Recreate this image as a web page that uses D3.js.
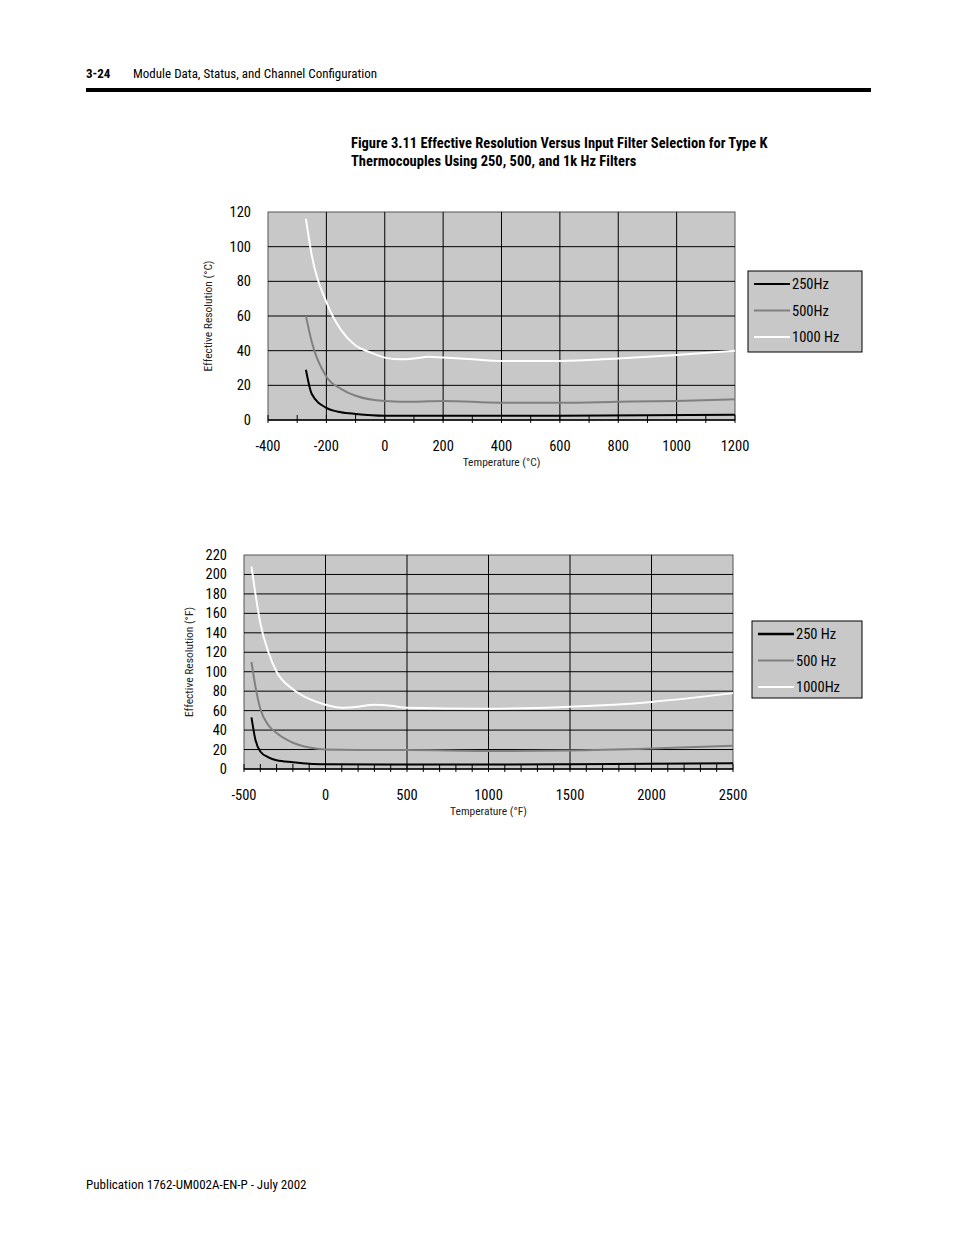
<!DOCTYPE html>
<html><head><meta charset="utf-8">
<script src="https://cdn.jsdelivr.net/npm/d3@7"></script>
<style>body{margin:0;background:#fff}svg{font-family:"Liberation Sans Narrow","Roboto Condensed","Liberation Sans",sans-serif}</style>
</head><body><svg id="s" width="954" height="1235"></svg>
<script>
// Chart 1 (°C)
const c_x250=[-270,-250,-200,-150,-100,0,200,600,1200];
const c_y250=[29,15,7,4.5,3.5,2.5,2.5,2.5,3];
const c_x500=[-270,-250,-200,-150,-100,0,100,200,400,600,800,1000,1200];
const c_y500=[60,45,25,18,14,11,10.5,11,10,10,10.5,11,12];
const c_x1000=[-270,-250,-200,-150,-100,-50,0,50,100,150,200,300,400,600,800,1000,1200];
const c_y1000=[116,95,68,52,43,39,36,35,35.5,36.5,36,35,34,34,35.5,37.5,40];
// Chart 2 (°F)
const f_x250=[-454,-430,-400,-350,-300,-200,-100,0,500,1000,1500,2000,2500];
const f_y250=[53,30,18,12,9,7,5.5,5,4.5,4.5,5,5.5,6];
const f_x500=[-454,-430,-400,-350,-300,-200,-100,0,200,500,1000,1500,2000,2500];
const f_y500=[110,85,62,45,37,27,22,20,19.5,19.5,18.5,19,21,24];
const f_x1000=[-454,-430,-400,-350,-300,-200,-100,0,100,200,300,400,500,1000,1500,2000,2500];
const f_y1000=[208,180,150,120,100,82,72,66,63,64,66,65,63,62,64,69,78];
const seriesNames1=["250Hz","500Hz","1000 Hz"];
const seriesNames2=["250  Hz","500  Hz","1000Hz"];
const colors=["#000","#808080","#fff"];

const svg=d3.select("#s");
svg.append("text").attr("x",86).attr("y",78).attr("font-size",13).attr("font-weight","bold").text("3-24");
svg.append("text").attr("x",133).attr("y",78).attr("font-size",13).text("Module Data, Status, and Channel Configuration");
svg.append("rect").attr("x",86).attr("y",88).attr("width",785).attr("height",4).attr("fill","#000");
svg.append("text").attr("x",86).attr("y",1189).attr("font-size",13).text("Publication 1762-UM002A-EN-P - July 2002");
svg.append("text").attr("x",351).attr("y",148).attr("font-size",14.5).attr("font-weight","bold").text("Figure 3.11 Effective Resolution Versus Input Filter Selection for Type K");
svg.append("text").attr("x",351).attr("y",166).attr("font-size",14.5).attr("font-weight","bold").text("Thermocouples Using 250, 500, and 1k Hz Filters");

function chart(o){
  const x=d3.scaleLinear().domain(o.xd).range([o.l,o.r]);
  const y=d3.scaleLinear().domain(o.yd).range([o.b,o.t]);
  const g=svg.append("g");
  g.append("rect").attr("x",o.l).attr("y",o.t).attr("width",o.r-o.l).attr("height",o.b-o.t).attr("fill","#c8c8c8").attr("stroke","#555");
  g.selectAll(".vg").data(d3.range(o.xd[0]+o.xs,o.xd[1],o.xs)).join("line").attr("x1",d=>x(d)).attr("x2",d=>x(d)).attr("y1",o.t).attr("y2",o.b).attr("stroke","#000");
  g.selectAll(".hg").data(d3.range(o.yd[0]+o.ys,o.yd[1],o.ys)).join("line").attr("x1",o.l).attr("x2",o.r).attr("y1",d=>y(d)).attr("y2",d=>y(d)).attr("stroke","#000");
  g.selectAll(".mt").data(d3.range(o.xd[0],o.xd[1]+1,o.xm)).join("line").attr("x1",d=>x(d)).attr("x2",d=>x(d)).attr("y1",o.b-5).attr("y2",o.b+3).attr("stroke","#000");
  g.append("line").attr("x1",o.l).attr("x2",o.r).attr("y1",o.b).attr("y2",o.b).attr("stroke","#000").attr("stroke-width",1.5);
  g.selectAll(".yt").data(d3.range(o.yd[0],o.yd[1]+1,o.ys)).join("text").attr("x",o.l-17).attr("y",d=>y(d)+5).attr("text-anchor","end").attr("font-size",14.5).text(d=>d);
  g.selectAll(".xt").data(d3.range(o.xd[0],o.xd[1]+1,o.xs)).join("text").attr("x",d=>x(d)).attr("y",o.b+31).attr("text-anchor","middle").attr("font-size",14.5).text(d=>d);
  g.append("text").attr("x",(o.l+o.r)/2).attr("y",o.b+46).attr("text-anchor","middle").attr("font-size",11.5).attr("fill","#222").text(o.xl);
  g.append("text").attr("transform",`translate(${o.yx},${(o.t+o.b)/2}) rotate(-90)`).attr("text-anchor","middle").attr("font-size",11.5).attr("fill","#222").text(o.yl);
  const line=d3.line().x(d=>x(d[0])).y(d=>y(d[1])).curve(d3.curveMonotoneX);
  o.series.forEach((s,i)=>g.append("path").attr("d",line(d3.zip(s[0],s[1]))).attr("fill","none").attr("stroke",colors[i]).attr("stroke-width",2));
  const lg=o.lg;
  g.append("rect").attr("x",lg[0]).attr("y",lg[1]).attr("width",lg[2]).attr("height",lg[3]).attr("fill","#c8c8c8").attr("stroke","#000");
  o.names.forEach((n,i)=>{const yy=lg[1]+13+i*26.5;
    g.append("line").attr("x1",lg[0]+6).attr("x2",lg[0]+42).attr("y1",yy).attr("y2",yy).attr("stroke",colors[i]).attr("stroke-width",i==0&&o.thick?2.5:2);
    g.append("text").attr("x",lg[0]+44).attr("y",yy+5).attr("font-size",14.5).text(n);});
}
chart({xd:[-400,1200],yd:[0,120],xs:200,ys:20,xm:100,l:268,r:735,t:212,b:420,yx:212,
  xl:"Temperature (°C)",yl:"Effective Resolution (°C)",names:seriesNames1,lg:[748,271,114,81],
  series:[[c_x250,c_y250],[c_x500,c_y500],[c_x1000,c_y1000]]});
chart({xd:[-500,2500],yd:[0,220],xs:500,ys:20,xm:100,l:244,r:733,t:555,b:769,yx:193,
  xl:"Temperature (°F)",yl:"Effective Resolution (°F)",names:seriesNames2,lg:[752,621,110,77],thick:true,
  series:[[f_x250,f_y250],[f_x500,f_y500],[f_x1000,f_y1000]]});
</script></body></html>
